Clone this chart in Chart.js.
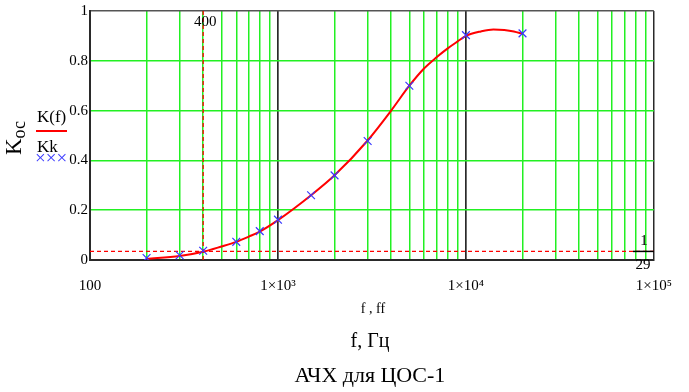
<!DOCTYPE html>
<html><head><meta charset="utf-8">
<script src="https://cdn.jsdelivr.net/npm/chart.js@4/dist/chart.umd.min.js"></script>
<style>html,body{margin:0;padding:0;background:#fff;}#wrap{width:689px;height:392px;}</style>
</head><body><div id="wrap"><canvas id="c" width="689" height="392"></canvas></div>
<script>
// Curve K(f)
const curveFreq = [200,300,400,500,600,700,800,1000,1500,2000,3000,4000,5000,6000,7000,8000,9000,10000,12000,14000,16000,18000,20000];
const curveK    = [0.005,0.016,0.033,0.054,0.073,0.094,0.114,0.16,0.26,0.34,0.48,0.60,0.70,0.77,0.815,0.85,0.877,0.90,0.918,0.926,0.924,0.918,0.908];
// Measured points Kk
const markFreq = [200,300,400,600,800,1000,1500,2000,3000,5000,10000,20000];
const markK    = [0.008,0.019,0.037,0.073,0.116,0.162,0.26,0.34,0.478,0.70,0.903,0.91];
// Reference lines
const refFreq = 400;
const refLevel = 1/29;
// Axes
const xTickValues = [100,200,300,400,500,600,700,800,900,1000,2000,3000,4000,5000,6000,7000,8000,9000,10000,20000,30000,40000,50000,60000,70000,80000,90000,100000];
const xTickLabels = {100:'100',1000:'1×10³',10000:'1×10⁴',100000:'1×10⁵'};
const yTickValues = [0,0.2,0.4,0.6,0.8,1];
const yTickLabels = ['0','0.2','0.4','0.6','0.8','1'];

const SERIF = "'Liberation Serif','Times New Roman',serif";
const GREEN = '#22f022';
const DARK = '#2a2a2a';

const extras = {
  id:'extras',
  afterDraw(chart){
    const {ctx, chartArea:a, scales:{x,y}} = chart;
    ctx.save();
    ctx.fillStyle='#000';
    ctx.textBaseline='alphabetic';
    // 400 label
    ctx.font='15px '+SERIF; ctx.textAlign='center';
    ctx.fillText(String(refFreq), x.getPixelForValue(refFreq)+2, 26);
    // fraction 1/29
    const yb = y.getPixelForValue(refLevel);
    ctx.fillText('1', 644, yb-6);
    ctx.strokeStyle='#000'; ctx.lineWidth=1.5;
    ctx.beginPath(); ctx.moveTo(633, yb); ctx.lineTo(a.right, yb); ctx.stroke();
    ctx.fillText('29', 643, yb+18);
    // legend
    ctx.textAlign='left';
    ctx.font='17px '+SERIF;
    ctx.fillText('K(f)', 37, 122);
    ctx.strokeStyle='#ff0000'; ctx.lineWidth=2;
    ctx.beginPath(); ctx.moveTo(36,131); ctx.lineTo(67,131); ctx.stroke();
    ctx.fillText('Kk', 37, 152);
    ctx.fillStyle='#3a3aff'; ctx.font='19px '+SERIF; ctx.textBaseline='middle';
    ctx.fillText('×××', 35, 159);
    // y title
    ctx.fillStyle='#000'; ctx.textBaseline='alphabetic';
    ctx.save();
    ctx.translate(21, 138); ctx.rotate(-Math.PI/2);
    ctx.font='23px '+SERIF;
    const wK = ctx.measureText('K').width;
    ctx.font='18px '+SERIF;
    const wS = ctx.measureText('ос').width;
    const start = -(wK+wS)/2;
    ctx.font='23px '+SERIF; ctx.fillText('K', start, 0);
    ctx.font='18px '+SERIF; ctx.fillText('ос', start+wK, 4);
    ctx.restore();
    // bottom texts
    ctx.textAlign='center';
    const cx = (a.left+a.right)/2;
    ctx.font='14px '+SERIF; ctx.fillText('f , ff', cx+1, 313);
    ctx.font='20px '+SERIF; ctx.fillText('f, Гц', cx-2, 347);
    ctx.font='22px '+SERIF; ctx.fillText('АЧХ для ЦОС-1', cx-2, 382);
    ctx.restore();
  }
};

new Chart(document.getElementById('c').getContext('2d'), {
  type:'line',
  data:{datasets:[
    {label:'Kk', data:markFreq.map((f,i)=>({x:f,y:markK[i]})), showLine:false, pointStyle:'crossRot', pointRadius:5.5, borderColor:'#3838ff', backgroundColor:'#3838ff', borderWidth:1.2, order:0},
    {label:'K(f)', data:curveFreq.map((f,i)=>({x:f,y:curveK[i]})), borderColor:'#ff0000', borderWidth:2, pointRadius:0, cubicInterpolationMode:'monotone', order:1},
    {label:'f=400', data:[{x:refFreq,y:0},{x:refFreq,y:1}], borderColor:'#ff0000', borderWidth:1.3, borderDash:[4,3], pointRadius:0, order:2},
    {label:'1/29', data:[{x:100,y:refLevel},{x:100000,y:refLevel}], borderColor:'#ff0000', borderWidth:1.3, borderDash:[4,3], pointRadius:0, order:2}
  ]},
  options:{
    responsive:false, animation:false, devicePixelRatio:1,
    layout:{padding:{top:10,right:33,left:0,bottom:0}},
    plugins:{legend:{display:false}, tooltip:{enabled:false}, title:{display:false}},
    scales:{
      x:{type:'logarithmic', min:100, max:100000,
        afterBuildTicks(s){ s.ticks = xTickValues.map(v=>({value:v})); },
        afterFit(s){ s.height = 132; },
        ticks:{autoSkip:false, maxRotation:0, minRotation:0, padding:17, color:'#000',
          font:{family:SERIF, size:15},
          callback:(v)=> xTickLabels[v] || ''},
        grid:{drawTicks:false,
          color:c=> (c.tick && [100,1000,10000,100000].includes(c.tick.value)) ? DARK : GREEN,
          lineWidth:c=> (c.tick && [1000,10000].includes(c.tick.value)) ? 1.7 : 1.5},
        border:{color:DARK, width:2}
      },
      y:{min:0, max:1,
        afterBuildTicks(s){ s.ticks = yTickValues.map(v=>({value:v})); },
        afterFit(s){ s.width = 90; },
        ticks:{padding:2, color:'#000', font:{family:SERIF, size:15},
          callback:(v,i)=> yTickLabels[i]},
        grid:{drawTicks:false,
          color:c=> (c.tick && (c.tick.value===0 || c.tick.value===1)) ? '#555' : GREEN,
          lineWidth:1.5},
        border:{color:DARK, width:2}
      }
    }
  },
  plugins:[extras]
});
</script></body></html>
